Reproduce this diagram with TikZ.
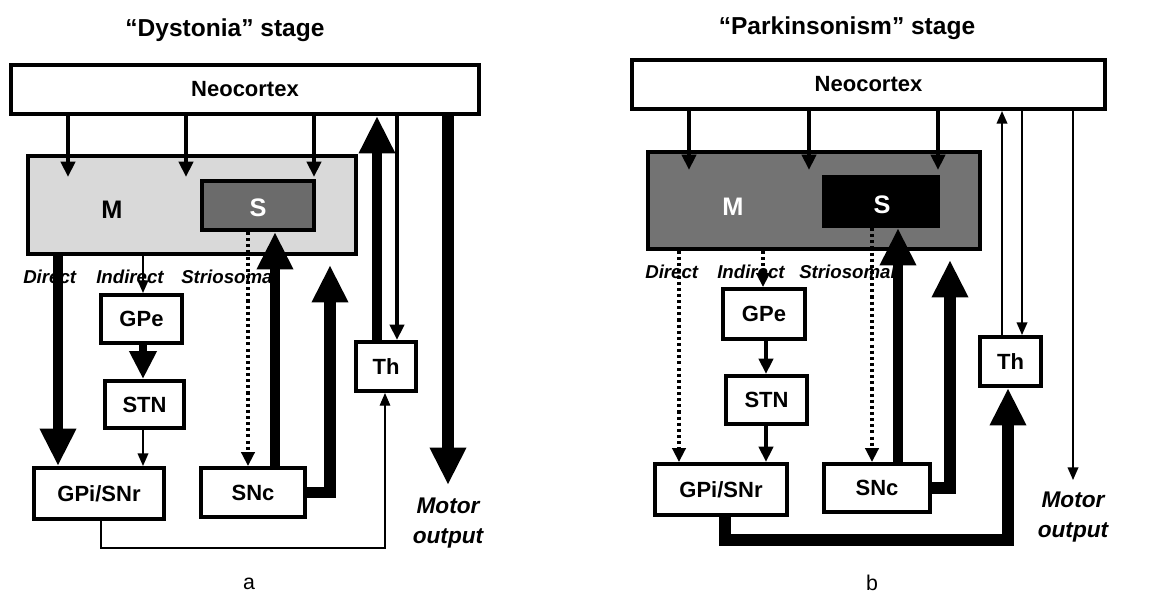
\documentclass[tikz,border=0pt]{standalone}
\usepackage{fontspec}
\setmainfont{Liberation Sans}
\usetikzlibrary{arrows.meta}
\newlength\pxu
\setlength\pxu{0.75pt}
\begin{document}
\begin{tikzpicture}[x=0.75pt,y=-0.75pt,
  box/.style={draw, line width=3pt, fill=white, inner sep=0pt, font=\fontsize{16.5}{18}\selectfont\bfseries},
  bigtext/.style={inner sep=0pt, font=\fontsize{19}{20}\selectfont\bfseries},
  lab/.style={inner sep=0pt, anchor=west, font=\fontsize{14}{16}\selectfont\bfseries\itshape},
  ttl/.style={inner sep=0pt, font=\fontsize{18.4}{20}\selectfont\bfseries},
  motor/.style={inner sep=0pt, align=center, font=\fontsize{17}{22.5}\selectfont\bfseries\itshape},
  big/.style={line width=#1, -{Triangle[width=25.5pt,length=28pt]}},
  med/.style={line width=6pt, -{Triangle[width=19.5pt,length=21pt]}},
  small/.style={line width=3pt, -{Triangle[width=10.5pt,length=11.5pt]}},
  thin/.style={line width=#1, -{Triangle[width=8pt,length=9.5pt]}},
  dots/.style={line width=2.4pt, dash pattern=on 2.3pt off 2.3pt, -{Triangle[width=10pt,length=10.5pt]}}
]
\useasboundingbox (0,0) rectangle (1174,593);
% ---------------- Panel a ----------------
\node[ttl] (ta) at (225,30) {“Dystonia” stage};
\node[box, minimum width=468\pxu, minimum height=49\pxu] (NeoA) at (245,89.5) {Neocortex};
\node[box, fill=black!15, minimum width=328\pxu, minimum height=98\pxu] (MA) at (192,205) {};
\node[bigtext] (MAt) at (112,210) {M};
\node[box, fill=black!58, minimum width=112\pxu, minimum height=49\pxu] (SA) at (258,205.5) {};
\node[bigtext, text=white] (SAt) at (258,208) {S};
\node[box, minimum width=81\pxu, minimum height=48\pxu] (GPeA) at (141.5,319) {GPe};
\node[box, minimum width=79\pxu, minimum height=47\pxu] (STNA) at (144.5,404.5) {STN};
\node[box, minimum width=130\pxu, minimum height=51\pxu] (GPiA) at (99,493.5) {GPi/SNr};
\node[box, minimum width=104\pxu, minimum height=49\pxu] (SNcA) at (253,492.5) {SNc};
\node[box, minimum width=60\pxu, minimum height=49\pxu] (ThA) at (386,366.5) {Th};
\node[motor] (motAt) at (448,523) {Motor\\output};
\node[lab] (dirAt) at (23,277) {Direct};
\node[lab] (indAt) at (96,277) {Indirect};
\node[lab] (strAt) at (181,277) {Striosomal};
\node[inner sep=0pt, font=\fontsize{16}{18}\selectfont] (la) at (249,584) {a};
% column coordinates
\coordinate (aA1) at (68,177);
\coordinate (aA2) at (186,177);
\coordinate (aA3) at (314,177);
\coordinate (dirA) at (58,0);
\coordinate (indA) at (143,0);
\coordinate (strA) at (248,0);
\coordinate (snsA) at (275,0);
\coordinate (snrA) at (330,265);
\coordinate (thuA) at (377,0);
\coordinate (thdA) at (397,0);
\coordinate (motA) at (448,485);
\coordinate (gtA1) at (101,548);
\coordinate (gtA2) at (385,548);
% connectors a
\draw[small] (NeoA.south -| aA1) -- (aA1);
\draw[small] (NeoA.south -| aA2) -- (aA2);
\draw[small] (NeoA.south -| aA3) -- (aA3);
\draw[big=8pt] (MA.south -| dirA) -- (GPiA.north -| dirA);
\draw[thin=1.2pt] (MA.south -| indA) -- (GPeA.north -| indA);
\draw[med] (GPeA.south -| indA) -- (STNA.north -| indA);
\draw[thin=1.2pt] (STNA.south -| indA) -- (GPiA.north -| indA);
\draw[dots] (SA.south -| strA) -- (SNcA.north -| strA);
\draw[big=7.5pt] (SNcA.north -| snsA) -- (SA.south -| snsA);
\draw[big=8.5pt] (SNcA.east) -| (snrA);
\draw[big=6.8pt] (ThA.north -| thuA) -- (NeoA.south -| thuA);
\draw[small] (NeoA.south -| thdA) -- (ThA.north -| thdA);
\draw[big=9pt] (NeoA.south -| motA) -- (motA);
\draw[thin=0.8pt] (GPiA.south -| gtA1) -- (gtA1) -- (gtA2) -- (ThA.south -| gtA2);
% ---------------- Panel b ----------------
\node[ttl] (tb) at (847,28) {“Parkinsonism” stage};
\node[box, minimum width=473\pxu, minimum height=49\pxu] (NeoB) at (868.5,84.5) {Neocortex};
\node[box, fill=black!55, minimum width=332\pxu, minimum height=97\pxu] (MB) at (814,200.5) {};
\node[bigtext, text=white] (MBt) at (733,207) {M};
\node[box, fill=black, minimum width=114\pxu, minimum height=49\pxu] (SB) at (881,201.5) {};
\node[bigtext, text=white] (SBt) at (882,205) {S};
\node[box, minimum width=82\pxu, minimum height=50\pxu] (GPeB) at (764,314) {GPe};
\node[box, minimum width=81\pxu, minimum height=48\pxu] (STNB) at (766.5,400) {STN};
\node[box, minimum width=132\pxu, minimum height=51\pxu] (GPiB) at (721,489.5) {GPi/SNr};
\node[box, minimum width=106\pxu, minimum height=48\pxu] (SNcB) at (877,488) {SNc};
\node[box, minimum width=61\pxu, minimum height=49\pxu] (ThB) at (1010.5,361.5) {Th};
\node[motor] (motBt) at (1073,517) {Motor\\output};
\node[lab] (dirBt) at (645,272) {Direct};
\node[lab] (indBt) at (717,272) {Indirect};
\node[lab] (strBt) at (799,272) {Striosomal};
\node[inner sep=0pt, font=\fontsize{16}{18}\selectfont] (lb) at (872,583) {b};
\coordinate (aB1) at (689,170);
\coordinate (aB2) at (809,170);
\coordinate (aB3) at (938,170);
\coordinate (dirB) at (679,0);
\coordinate (indB) at (763,0);
\coordinate (gsB) at (766,0);
\coordinate (strB) at (872,0);
\coordinate (snsB) at (898,0);
\coordinate (snrB) at (950,260);
\coordinate (thuB) at (1002,0);
\coordinate (thdB) at (1022,0);
\coordinate (motB) at (1073,480);
\coordinate (gtB1) at (725,540);
\coordinate (gtB2) at (1008,540);
\draw[small] (NeoB.south -| aB1) -- (aB1);
\draw[small] (NeoB.south -| aB2) -- (aB2);
\draw[small] (NeoB.south -| aB3) -- (aB3);
\draw[dots] (MB.south -| dirB) -- (GPiB.north -| dirB);
\draw[dots] (MB.south -| indB) -- (GPeB.north -| indB);
\draw[small] (GPeB.south -| gsB) -- (STNB.north -| gsB);
\draw[small] (STNB.south -| gsB) -- (GPiB.north -| gsB);
\draw[dots] (SB.south -| strB) -- (SNcB.north -| strB);
\draw[big=7.5pt] (SNcB.north -| snsB) -- (SB.south -| snsB);
\draw[big=8.5pt] (SNcB.east) -| (snrB);
\draw[big=9pt] (GPiB.south -| gtB1) -- (gtB1) -- (gtB2) -- (ThB.south -| gtB2);
\draw[thin=1.3pt] (ThB.north -| thuB) -- (NeoB.south -| thuB);
\draw[thin=1.3pt] (NeoB.south -| thdB) -- (ThB.north -| thdB);
\draw[thin=1.3pt] (NeoB.south -| motB) -- (motB);
\end{tikzpicture}
\end{document}
